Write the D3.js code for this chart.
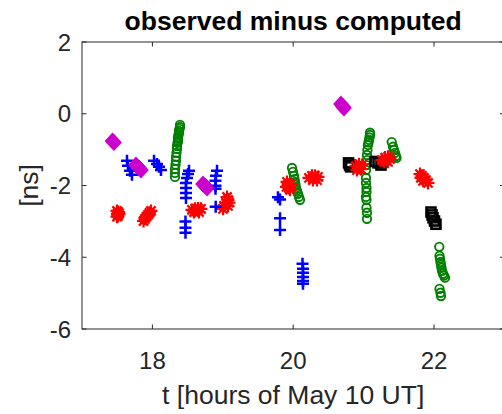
<!DOCTYPE html>
<html>
<head>
<meta charset="utf-8">
<script src="https://cdn.jsdelivr.net/npm/d3@7"></script>
<style>
  html, body { margin: 0; padding: 0; background: #fff; }
  svg { display: block; font-family: "Liberation Sans", Arial, Helvetica, sans-serif; }
</style>
</head>
<body>
<svg id="chart" width="502" height="414"></svg>
<script>
// Axis settings
const xDomain = [17, 23];
const yDomain = [-6, 2];
const xTicks = [18, 20, 22];
const yTicks = [2, 0, -2, -4, -6];
const titleText = "observed minus computed";
const xLabelText = "t [hours of May 10 UT]";
const yLabelText = "[ns]";

// Green circles (t in hours, residual in ns)
const tCircle = [
  18.392, 18.392, 18.385, 18.378, 18.378, 18.371, 18.364, 18.364, 18.364, 18.357, 18.349, 18.349, 18.342, 18.335, 18.335, 18.328, 18.321, 18.321, 18.321,
  19.983, 19.997, 20.011, 20.018, 20.026, 20.033, 20.040, 20.054, 20.068, 20.082, 20.097,
  21.091, 21.091, 21.084, 21.077, 21.070, 21.062, 21.055, 21.048, 21.048, 21.041, 21.034, 21.034, 21.034, 21.041, 21.041, 21.034, 21.041, 21.041, 21.048, 21.048,
  21.399, 21.418, 21.432, 21.446, 21.460, 21.467,
  22.075, 22.078, 22.085, 22.092, 22.099, 22.106, 22.114, 22.128, 22.142, 22.156, 22.078, 22.092, 22.099];
const yCircle = [
  -0.31, -0.37, -0.42, -0.48, -0.53, -0.59, -0.65, -0.70, -0.76, -0.81, -0.90, -0.98, -1.09, -1.20, -1.31, -1.42, -1.54, -1.65, -1.76,
  -1.51, -1.62, -1.73, -1.82, -1.90, -1.98, -2.07, -2.15, -2.23, -2.32, -2.40,
  -0.53, -0.59, -0.66, -0.73, -0.80, -0.87, -1.01, -1.15, -1.29, -1.43, -1.57, -1.79, -1.93, -2.07, -2.18, -2.32, -2.40, -2.62, -2.76, -2.93,
  -0.79, -0.92, -1.01, -1.09, -1.18, -1.23,
  -3.71, -3.96, -4.04, -4.13, -4.21, -4.29, -4.38, -4.46, -4.51, -4.57, -4.88, -4.99, -5.08];

// Black squares
const tSquare = [20.786, 20.800, 20.815, 21.162, 21.205, 21.247, 21.957, 21.972, 21.986, 22.007, 22.028];
const ySquare = [-1.37, -1.43, -1.48, -1.33, -1.37, -1.43, -2.74, -2.82, -2.90, -2.99, -3.08];

// Red asterisks
const tStar = [
  17.497, 17.518, 17.504, 17.511, 17.497, 17.526,
  17.980, 17.959, 17.938, 17.916, 17.895, 17.874,
  18.562, 18.605, 18.648, 18.690, 18.591, 18.662,
  19.060, 19.074, 19.045, 19.017, 19.003, 19.074, 19.088,
  19.912, 19.926, 19.940, 19.955, 19.905, 19.969,
  20.224, 20.267, 20.310, 20.352, 20.281, 20.338,
  20.892, 20.935, 20.977, 20.906, 20.963, 20.935,
  21.261, 21.304, 21.347, 21.375, 21.290, 21.347,
  21.801, 21.830, 21.858, 21.886, 21.915, 21.844, 21.815];
const yStar = [
  -2.71, -2.74, -2.79, -2.85, -2.87, -2.79,
  -2.71, -2.76, -2.82, -2.87, -2.93, -2.99,
  -2.68, -2.65, -2.64, -2.65, -2.74, -2.74,
  -2.32, -2.40, -2.48, -2.57, -2.65, -2.57, -2.48,
  -1.90, -1.98, -2.07, -2.12, -2.04, -1.96,
  -1.79, -1.73, -1.73, -1.76, -1.85, -1.85,
  -1.45, -1.41, -1.43, -1.57, -1.54, -1.51,
  -1.29, -1.22, -1.20, -1.26, -1.34, -1.34,
  -1.68, -1.73, -1.79, -1.85, -1.93, -1.87, -1.79];

// Blue plus signs
const tPlus = [
  17.639, 17.653, 17.682, 17.710,
  18.023, 18.065, 18.094, 18.122,
  18.520, 18.506, 18.491, 18.477, 18.477, 18.477, 18.477, 18.470, 18.470, 18.470,
  18.918, 18.903, 18.896, 18.896, 18.896, 18.899,
  19.784, 19.813, 19.813, 19.813,
  20.132, 20.139, 20.139, 20.139, 20.139, 20.139];
const yPlus = [
  -1.31, -1.45, -1.59, -1.70,
  -1.31, -1.40, -1.48, -1.57,
  -1.59, -1.68, -1.79, -1.93, -2.07, -2.21, -2.35, -3.00, -3.18, -3.32,
  -1.59, -1.73, -1.87, -2.01, -2.09, -2.59,
  -2.33, -2.39, -2.91, -3.24,
  -4.18, -4.32, -4.43, -4.55, -4.66, -4.74];

// Magenta diamonds
const tDiamond = [17.433, 17.455, 17.767, 17.810, 17.838, 18.719, 18.747, 18.776, 20.679, 20.707, 20.722];
const yDiamond = [-0.76, -0.80, -1.43, -1.51, -1.57, -1.96, -2.01, -2.07, 0.27, 0.20, 0.16];

const axisColor = "#262626";
const svg = d3.select("#chart");

const x = d3.scaleLinear().domain(xDomain).range([82, 504.4]);
const y = d3.scaleLinear().domain(yDomain).range([329, 42]);
const [x0, x1] = x.range();
const [y0, y1] = y.range();

svg.append("defs").append("clipPath").attr("id", "plotArea")
  .append("rect").attr("x", x0).attr("y", y1).attr("width", x1 - x0).attr("height", y0 - y1);

const plot = svg.append("g").attr("clip-path", "url(#plotArea)");

const zip = (ts, ys) => ts.map((t, i) => ({ t, v: ys[i] }));

// circles
plot.append("g").selectAll("circle").data(zip(tCircle, yCircle)).join("circle")
  .attr("cx", d => x(d.t)).attr("cy", d => y(d.v)).attr("r", 4.2)
  .attr("fill", "none").attr("stroke", "#008000").attr("stroke-width", 1.9);

// squares
plot.append("g").selectAll("rect").data(zip(tSquare, ySquare)).join("rect")
  .attr("x", d => x(d.t) - 4.5).attr("y", d => y(d.v) - 4.5)
  .attr("width", 9).attr("height", 9)
  .attr("fill", "none").attr("stroke", "#000").attr("stroke-width", 2.6);

// asterisks
const starPath = "M-6.5,0H6.5M0,-6.5V6.5M-4.6,-4.6L4.6,4.6M-4.6,4.6L4.6,-4.6";
plot.append("g").selectAll("path").data(zip(tStar, yStar)).join("path")
  .attr("transform", d => `translate(${x(d.t)},${y(d.v)})`)
  .attr("d", starPath).attr("fill", "none").attr("stroke", "#ff0000").attr("stroke-width", 2.2);

// plus signs
const plusPath = "M-6,0H6M0,-6V6";
plot.append("g").selectAll("path").data(zip(tPlus, yPlus)).join("path")
  .attr("transform", d => `translate(${x(d.t)},${y(d.v)})`)
  .attr("d", plusPath).attr("fill", "none").attr("stroke", "#0000ff").attr("stroke-width", 2.5);

// diamonds
const diamondPath = "M0,-7L6.5,0L0,7L-6.5,0Z";
plot.append("g").selectAll("path").data(zip(tDiamond, yDiamond)).join("path")
  .attr("transform", d => `translate(${x(d.t)},${y(d.v)})`)
  .attr("d", diamondPath).attr("fill", "#cc00cc").attr("stroke", "#cc00cc").attr("stroke-width", 2);

// axes box
const axes = svg.append("g");
axes.append("rect").attr("x", x0).attr("y", y1).attr("width", x1 - x0).attr("height", y0 - y1)
  .attr("fill", "none").attr("stroke", axisColor).attr("stroke-width", 1);

const tickLen = 4.5;
xTicks.forEach(v => {
  axes.append("line").attr("x1", x(v)).attr("x2", x(v)).attr("y1", y0).attr("y2", y0 - tickLen)
    .attr("stroke", axisColor);
  axes.append("line").attr("x1", x(v)).attr("x2", x(v)).attr("y1", y1).attr("y2", y1 + tickLen)
    .attr("stroke", axisColor);
  axes.append("text").attr("x", x(v)).attr("y", 369).attr("text-anchor", "middle")
    .attr("font-size", 24).attr("fill", axisColor).text(v);
});
yTicks.forEach(v => {
  axes.append("line").attr("x1", x0).attr("x2", x0 + tickLen).attr("y1", y(v)).attr("y2", y(v))
    .attr("stroke", axisColor);
  axes.append("line").attr("x1", x1).attr("x2", x1 - tickLen).attr("y1", y(v)).attr("y2", y(v))
    .attr("stroke", axisColor);
  axes.append("text").attr("x", 71).attr("y", y(v) + 8.5).attr("text-anchor", "end")
    .attr("font-size", 24).attr("fill", axisColor).text(v);
});

svg.append("text").attr("x", (x0 + x1) / 2).attr("y", 30).attr("text-anchor", "middle")
  .attr("font-size", 26.5).attr("font-weight", "bold").attr("fill", "#000").text(titleText);
svg.append("text").attr("x", (x0 + x1) / 2).attr("y", 404).attr("text-anchor", "middle")
  .attr("font-size", 26.5).attr("fill", axisColor).text(xLabelText);
svg.append("text").attr("transform", `translate(38,${(y0 + y1) / 2}) rotate(-90)`)
  .attr("text-anchor", "middle").attr("font-size", 26.5).attr("fill", axisColor).text(yLabelText);
</script>
</body>
</html>
